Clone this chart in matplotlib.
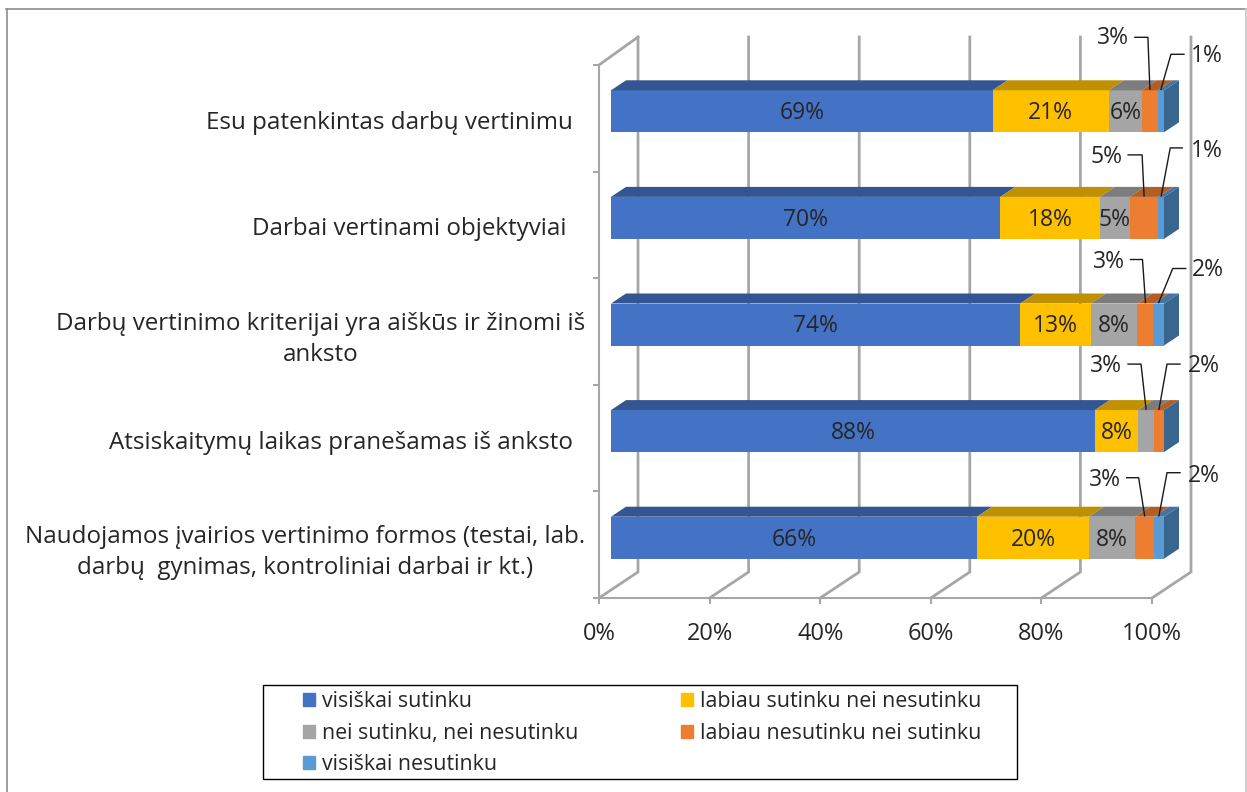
import matplotlib
matplotlib.use("Agg")
import matplotlib.pyplot as plt
from matplotlib.patches import Rectangle
from matplotlib.lines import Line2D

plt.rcParams['font.family'] = ['Open Sans', 'DejaVu Sans']

# data, top bar first
categories = [
    "Esu patenkintas darbų vertinimu",
    "Darbai vertinami objektyviai",
    "Darbų vertinimo kriterijai yra aiškūs ir žinomi iš\nanksto",
    "Atsiskaitymų laikas pranešamas iš anksto",
    "Naudojamos įvairios vertinimo formos (testai, lab.\ndarbų  gynimas, kontroliniai darbai ir kt.)",
]
series_names = [
    "visiškai sutinku",
    "labiau sutinku nei nesutinku",
    "nei sutinku, nei nesutinku",
    "labiau nesutinku nei sutinku",
    "visiškai nesutinku",
]
visiskai_sutinku = [69, 70.4, 74, 87.5, 66.2]
labiau_sutinku = [21, 18, 12.8, 7.8, 20.2]
nei_nei = [6, 5.4, 8.4, 2.9, 8.4]
labiau_nesutinku = [2.9, 5.2, 2.9, 1.8, 3.4]
visiskai_nesutinku = [1.1, 1, 1.9, 0, 1.8]
x_ticks = [0, 20, 40, 60, 80, 100]

# layout
W, H = 1247, 792
FG = "#262626"
GRID = "#A6A6A6"
FRONT = ["#4472C4", "#FFC000", "#A5A5A5", "#ED7D31", "#5B9BD5"]
TOP = ["#335693", "#BF9000", "#7C7C7C", "#B25E25", "#44749F"]
SIDE = "#38668E"

PX_X = 100 / 553   # one pixel in axis units
PX_Y = 5 / 533

BACK_X, BACK_Y = 39 * PX_X, 26 * PX_Y      # depth of the 3d box
BAR_SHIFT_X, BAR_SHIFT_Y = 12 * PX_X, 7 * PX_Y
BAR_DEPTH_X, BAR_DEPTH_Y = 15 * PX_X, 10 * PX_Y
BAR_H = 42 * PX_Y
WALL_TOP = 5 + 28 * PX_Y

# pad of each category label, in pixels
LABEL_PAD = [26, 32, 14, 26, 14]

# outside labels: (bar, segment): elbow dx, elbow up, start dx, label dx, label up
LEADERS = {
    (0, 3): (-2, 53, -15, -37, 52),
    (0, 4): (10, 36, 23, 46, 34),
    (1, 3): (-2, 42, -16, -38, 40),
    (1, 4): (9, 49, 21, 46, 46),
    (2, 3): (-3, 44, -15, -37, 41),
    (2, 4): (14, 35, 27, 49, 33),
    (3, 2): (-5, 46, -18, -40, 44),
    (3, 3): (8, 46, 21, 45, 44),
    (4, 3): (-6, 39, -18, -40, 37),
    (4, 4): (8, 44, 21, 45, 41),
}

fig = plt.figure(figsize=(W / 100, H / 100), dpi=100, facecolor="white")
ax = fig.add_axes([599 / W, (H - 598) / H, 553 / W, 533 / H])
ax.set_xlim(0, 100)
ax.set_ylim(0, 5)
ax.patch.set_visible(False)

# outer border of the screenshot
fig.add_artist(Line2D([6.5 / W, 6.5 / W], [0, 1 - 9 / H], color="#8C8C8C", lw=1.2))
fig.add_artist(Line2D([6 / W, 1], [1 - 9 / H, 1 - 9 / H], color="#8C8C8C", lw=1.2))
fig.add_artist(Line2D([1246 / W, 1246 / W], [0, 1 - 9 / H], color="#C8C8C8", lw=1.2))

# axes and walls
for side in ["top", "right"]:
    ax.spines[side].set_visible(False)
for side in ["left", "bottom"]:
    ax.spines[side].set_color(GRID)
    ax.spines[side].set_linewidth(1.5)

ax.set_xticks(x_ticks)
ax.set_xticklabels([f"{t}%" for t in x_ticks], fontsize=17, color=FG)
ax.tick_params(axis="x", length=4.5, width=1.5, color=GRID, pad=12.5)
ax.set_yticks(range(6))
ax.set_yticklabels([])
ax.tick_params(axis="y", which="major", length=4.5, width=1.5, color=GRID)

for t in x_ticks:
    ax.plot([t, t + BACK_X, t + BACK_X], [0, BACK_Y, WALL_TOP], color=GRID, lw=2,
            clip_on=False, zorder=1, solid_joinstyle="miter")
ax.plot([0, BACK_X], [5, WALL_TOP], color=GRID, lw=2, clip_on=False, zorder=1)

# category labels
y_pos = [4 - i + 0.485 for i in range(len(categories))]
ax.set_yticks(y_pos, minor=True)
ax.set_yticklabels(categories, minor=True, fontsize=17.4, color=FG,
                   multialignment="center", linespacing=1.38)
ax.tick_params(axis="y", which="minor", length=0)
for tick, pad in zip(ax.yaxis.get_minor_ticks(), LABEL_PAD):
    tick.set_pad(pad * 0.72)

# stacked 3d bars
all_series = [visiskai_sutinku, labiau_sutinku, nei_nei, labiau_nesutinku, visiskai_nesutinku]
for i in range(len(categories)):
    bottom = 4 - i + 0.5 + BAR_SHIFT_Y - BAR_H / 2
    top = bottom + BAR_H
    left = BAR_SHIFT_X
    for s, vals in enumerate(all_series):
        v = vals[i]
        if v == 0:
            continue
        ax.barh(bottom, v, height=BAR_H, left=left, align="edge", color=FRONT[s],
                edgecolor="none", clip_on=False, zorder=3)
        ax.fill([left, left + v, left + v + BAR_DEPTH_X, left + BAR_DEPTH_X],
                [top, top, top + BAR_DEPTH_Y, top + BAR_DEPTH_Y],
                color=TOP[s], lw=0, clip_on=False, zorder=3)
        mid = left + v / 2
        txt = f"{round(v)}%"
        if (i, s) in LEADERS:
            ex, ey, sx, lx, ly = LEADERS[(i, s)]
            ax.plot([mid + sx * PX_X, mid + ex * PX_X, mid],
                    [top + ey * PX_Y, top + ey * PX_Y, top + PX_Y],
                    color="#1A1A1A", lw=1, clip_on=False, zorder=5)
            ax.text(mid + lx * PX_X, top + ly * PX_Y, txt, fontsize=16.5, color=FG,
                    ha="center", va="center", clip_on=False, zorder=5)
        else:
            ax.text(mid, bottom + BAR_H / 2 - 2 * PX_Y, txt, fontsize=16.5, color=FG,
                    ha="center", va="center", zorder=5)
        left += v
    ax.fill([left, left + BAR_DEPTH_X, left + BAR_DEPTH_X, left],
            [bottom, bottom + BAR_DEPTH_Y, top + BAR_DEPTH_Y, top],
            color=SIDE, lw=0, clip_on=False, zorder=3)

# legend, frame drawn apart so that it can have its own size
fig.add_artist(Rectangle((263 / W, 1 - 779 / H), 754 / W, 94 / H, fill=False,
                         edgecolor="black", lw=1, transform=fig.transFigure))
handles = [Rectangle((0, 0), 1, 1, color=c) for c in FRONT]
order = [0, 2, 4, 1, 3]
fig.legend([handles[k] for k in order], [series_names[k] for k in order],
           loc="upper left", bbox_to_anchor=(288 / W, 1 - 676 / H), ncol=2, frameon=False,
           fontsize=15.4, labelcolor=FG, handlelength=0.55, handleheight=0.55,
           handletextpad=0.33, columnspacing=4.8, labelspacing=0.5, borderpad=0.2)

fig.savefig("out.png", dpi=100)
plt.close(fig)
